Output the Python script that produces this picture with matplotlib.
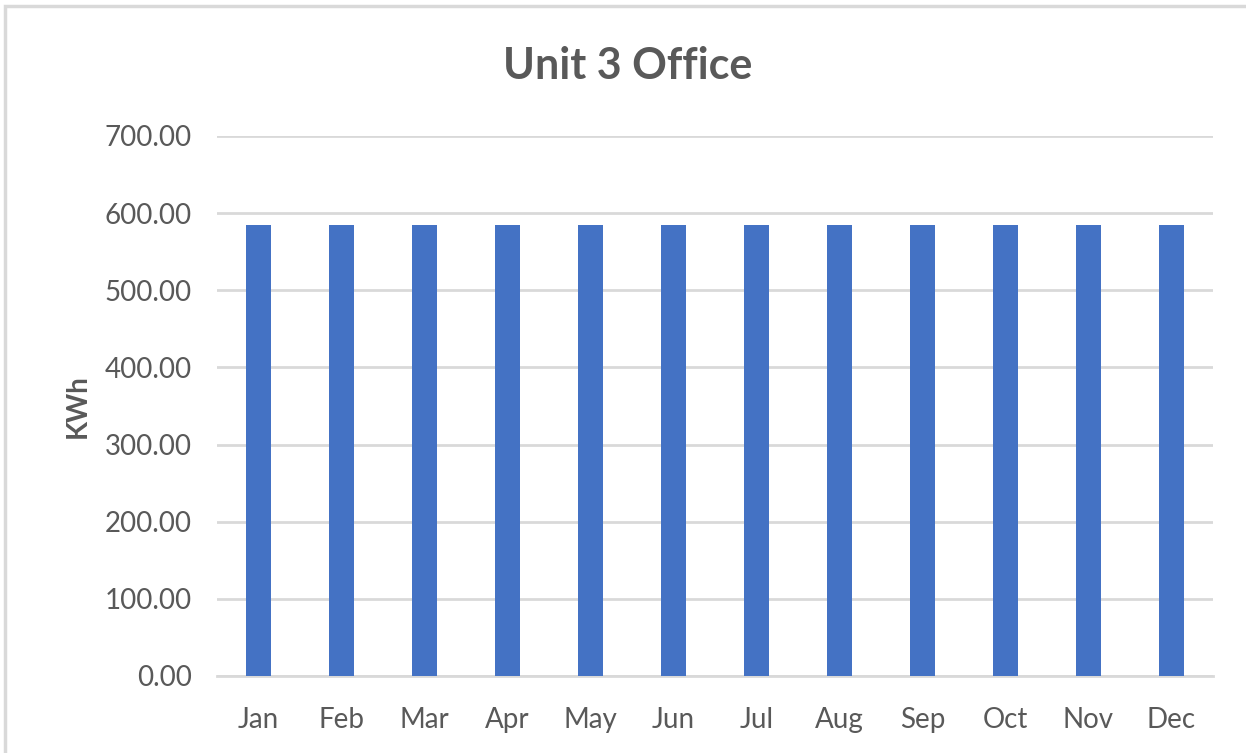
import matplotlib.pyplot as plt
from matplotlib.patches import Rectangle

months = ['Jan', 'Feb', 'Mar', 'Apr', 'May', 'Jun',
          'Jul', 'Aug', 'Sep', 'Oct', 'Nov', 'Dec']
kwh = [585, 585, 585, 585, 585, 585, 585, 585, 585, 585, 585, 585]
y_ticks = [0, 100, 200, 300, 400, 500, 600, 700]

plt.rcParams['font.family'] = ['Lato', 'DejaVu Sans']

fig = plt.figure(figsize=(12.46, 7.53), dpi=100)
fig.patch.set_facecolor('white')

# chart frame (only top and left visible in the reference)
fig.add_artist(Rectangle((5 / 1246, -0.1), 1.2, 1.1 - 6.5 / 753,
                         transform=fig.transFigure, fill=False,
                         edgecolor='#d9d9d9', linewidth=2.5))

ax = fig.add_axes([217 / 1246, 1 - 676 / 753, (1213 - 217) / 1246, (676 - 136) / 753])

x = range(len(months))
ax.bar(x, kwh, width=0.31, color='#4472C4', zorder=3)

ax.set_xlim(-0.5, len(months) - 0.5)
ax.set_ylim(0, 700)
ax.set_yticks(y_ticks)
ax.set_yticklabels([f'{v:.2f}' for v in y_ticks])
ax.set_xticks(list(x))
ax.set_xticklabels(months)

ax.grid(axis='y', color='#d9d9d9', linewidth=2, zorder=0)
ax.grid(axis='x', visible=False)
ax.tick_params(axis='both', length=0, labelsize=20, colors='#595959')
ax.tick_params(axis='y', pad=18)
ax.tick_params(axis='x', pad=22)
for s in ('top', 'right', 'left'):
    ax.spines[s].set_visible(False)
ax.spines['bottom'].set_color('#d9d9d9')
ax.spines['bottom'].set_linewidth(2)

ax.set_ylabel('KWh', fontsize=20, fontweight='bold', color='#595959', labelpad=10)

fig.text(628 / 1246, 1 - 66 / 753, 'Unit 3 Office', ha='center', va='center',
         fontsize=31, fontweight='bold', color='#595959')

plt.savefig('out.png', dpi=100)
